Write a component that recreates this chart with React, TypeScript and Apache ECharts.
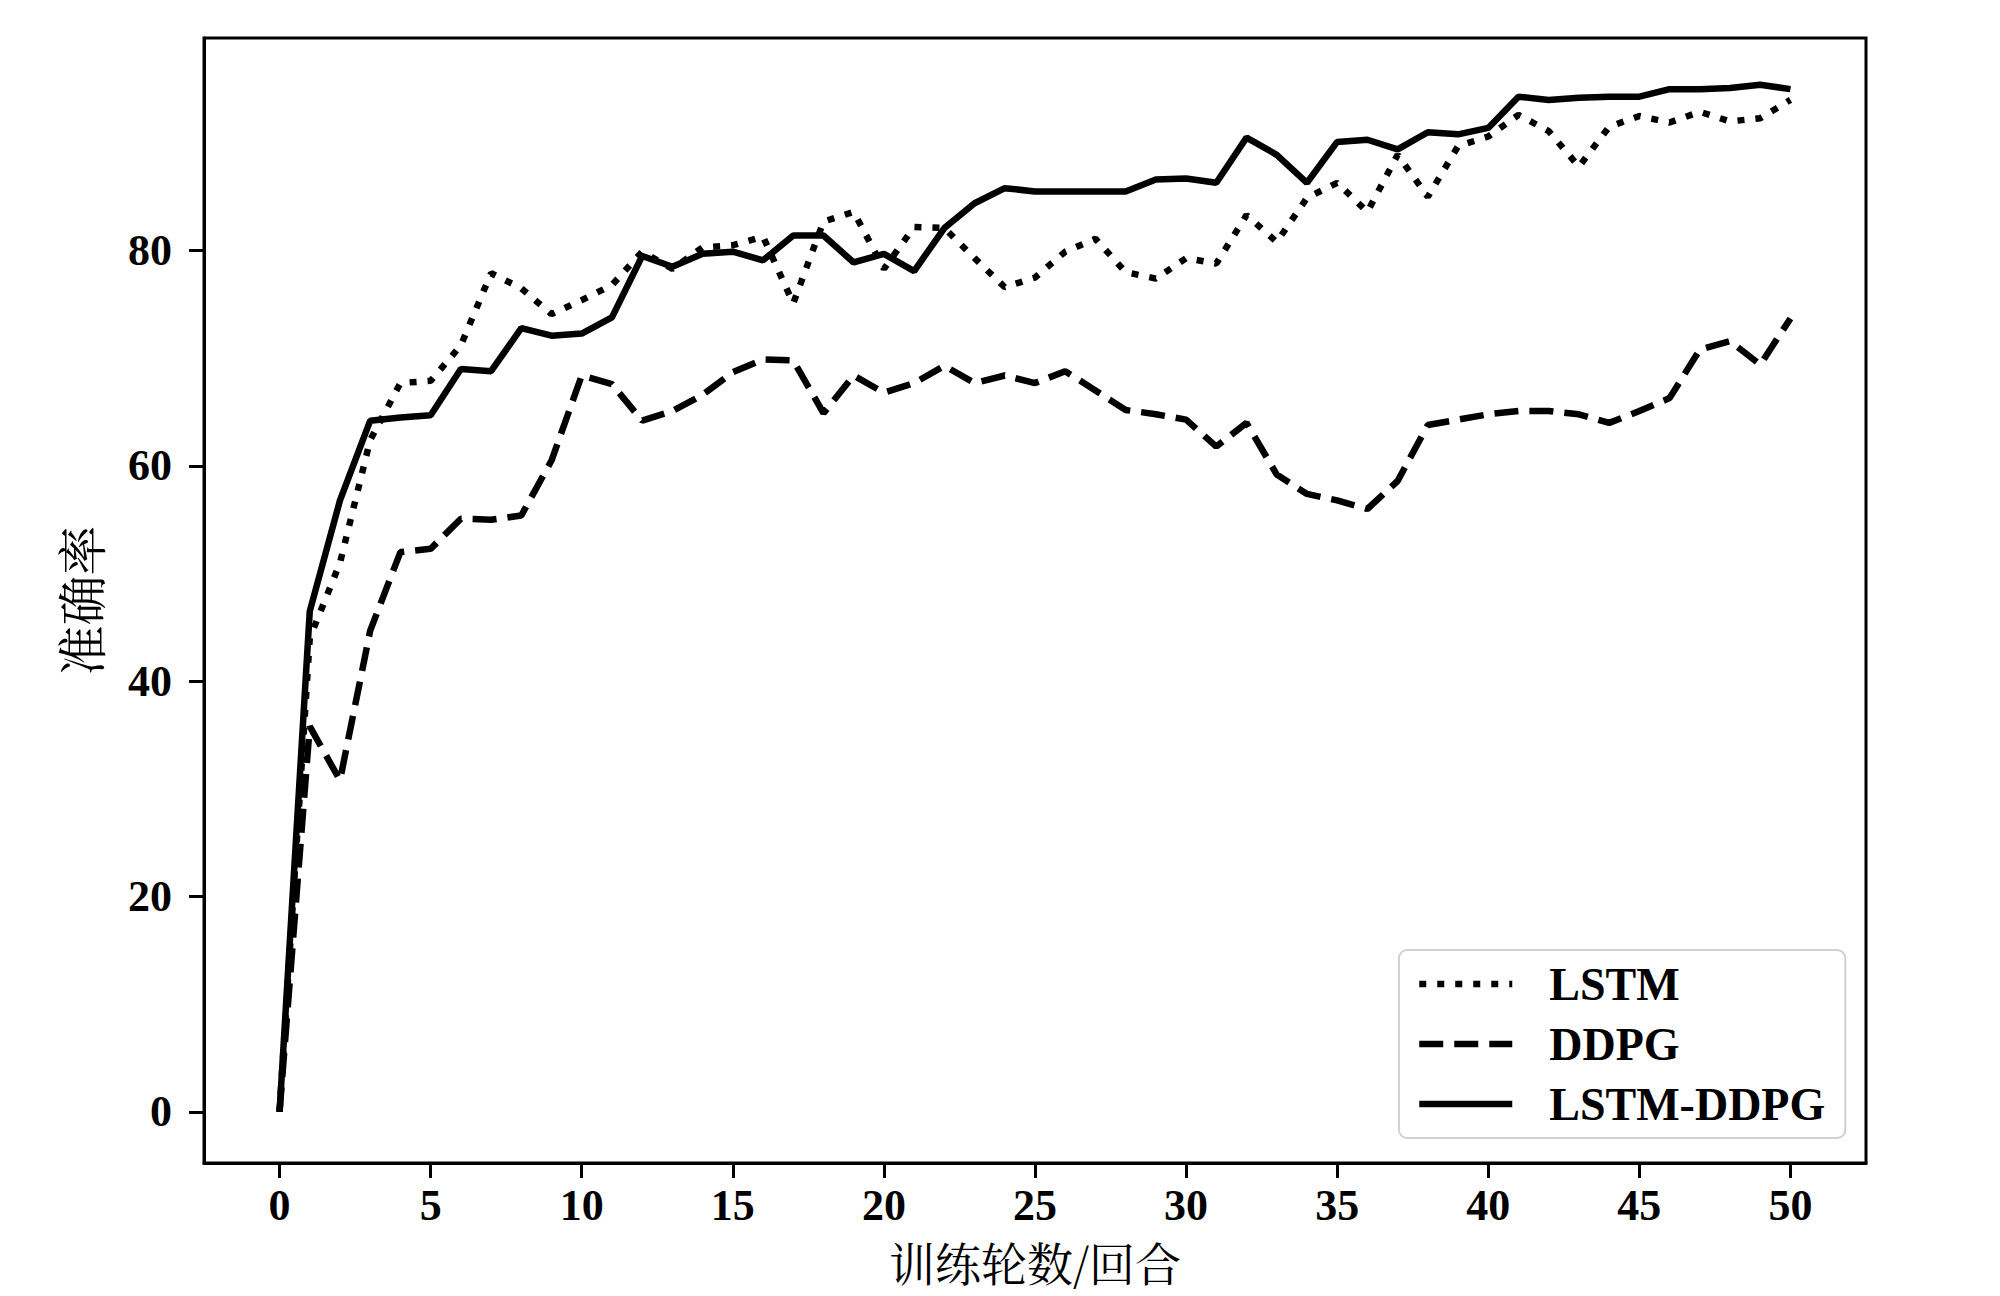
import React, { useEffect, useRef } from "react";
import * as echarts from "echarts";

const epochs: number[] = [];
for (let i = 0; i <= 50; i++) epochs.push(i);

const lstm = [0, 44, 51, 62.4, 67.7, 67.9, 71.2, 77.9, 76.5, 74.1, 75.4, 76.8, 79.9, 78.3, 80.3, 80.5, 81.3, 75.1, 82.7, 83.6, 78.3, 82.2, 82.1, 79.3, 76.6, 77.5, 79.9, 81.1, 78.0, 77.4, 79.3, 78.8, 83.3, 80.8, 84.9, 86.3, 83.6, 88.9, 85.0, 89.7, 90.6, 92.6, 91.1, 87.8, 91.5, 92.5, 91.9, 92.9, 92.0, 92.3, 94.0];
const ddpg = [0, 35.8, 30.8, 44.7, 52.0, 52.3, 55.1, 55.0, 55.4, 60.5, 68.4, 67.6, 64.2, 65.1, 66.6, 68.7, 69.9, 69.8, 64.9, 68.4, 66.8, 67.7, 69.3, 67.7, 68.4, 67.7, 68.8, 67.0, 65.2, 64.8, 64.3, 61.8, 64.0, 59.2, 57.4, 56.8, 56.0, 58.6, 63.8, 64.3, 64.8, 65.1, 65.1, 64.8, 64.0, 65.1, 66.3, 70.8, 71.6, 69.4, 73.7];
const lstmDdpg = [0, 46.5, 56.8, 64.2, 64.5, 64.7, 69.0, 68.8, 72.8, 72.1, 72.3, 73.8, 79.5, 78.5, 79.7, 79.9, 79.1, 81.4, 81.4, 78.9, 79.7, 78.1, 82.1, 84.4, 85.8, 85.5, 85.5, 85.5, 85.5, 86.6, 86.7, 86.3, 90.5, 88.9, 86.3, 90.1, 90.3, 89.4, 91.0, 90.8, 91.4, 94.3, 94.0, 94.2, 94.3, 94.3, 95.0, 95.0, 95.1, 95.4, 95.0];

const xTicks = [0, 5, 10, 15, 20, 25, 30, 35, 40, 45, 50];
const yTicks = [0, 20, 40, 60, 80];

const seriesNames = ["LSTM", "DDPG", "LSTM-DDPG"];
const xName = "训练轮数/回合";
const yName = "准确率";

const serif = "'Liberation Serif', 'Times New Roman', serif";
const cjk = "'Noto Serif CJK SC', 'Noto Sans CJK SC', sans-serif";

const dotted = [7, 11];
const dashed = [24, 11];

export default function App() {
  const ref = useRef<HTMLDivElement>(null);
  useEffect(() => {
    if (!ref.current) return;
    const chart = echarts.init(ref.current, null, { renderer: "svg" });
    const pairs = (arr: number[]) => epochs.map((e, i) => [e, arr[i]]);
    const tickLabel = {
      fontFamily: serif,
      fontWeight: "bold" as const,
      fontSize: 44,
      lineHeight: 44,
      color: "#000",
    };
    const lineStyles = [
      { color: "#000", width: 6.5, type: dotted, cap: "butt" },
      { color: "#000", width: 6.5, type: dashed, cap: "butt" },
      { color: "#000", width: 6.5, type: "solid" },
    ];
    chart.setOption({
      animation: false,
      backgroundColor: "#fff",
      grid: {
        left: 204,
        right: 134,
        top: 38,
        bottom: 133,
        show: true,
        borderColor: "#000",
        borderWidth: 3,
      },
      xAxis: {
        type: "value",
        min: -2.5,
        max: 52.5,
        name: xName,
        nameLocation: "middle",
        nameGap: 75,
        nameTextStyle: { fontFamily: cjk, fontSize: 46, lineHeight: 46, color: "#000" },
        splitLine: { show: false },
        axisLine: { show: true, onZero: false, lineStyle: { color: "#000", width: 3 } },
        axisTick: {
          show: true,
          inside: false,
          length: 15,
          lineStyle: { color: "#000", width: 3 },
          customValues: xTicks,
        },
        axisLabel: { ...tickLabel, margin: 20, customValues: xTicks },
      },
      yAxis: {
        type: "value",
        min: -4.75,
        max: 99.75,
        name: yName,
        nameLocation: "middle",
        nameGap: 100,
        nameTextStyle: { fontFamily: cjk, fontSize: 50, lineHeight: 50, color: "#000" },
        splitLine: { show: false },
        axisLine: { show: true, onZero: false, lineStyle: { color: "#000", width: 3 } },
        axisTick: {
          show: true,
          inside: false,
          length: 15,
          lineStyle: { color: "#000", width: 3 },
          customValues: yTicks,
        },
        axisLabel: { ...tickLabel, margin: 32, customValues: yTicks },
      },
      legend: {
        orient: "vertical",
        left: 1399,
        top: 950,
        align: "left",
        padding: [11, 20, 11, 17],
        itemGap: 14,
        itemWidth: 93,
        itemHeight: 16,
        borderColor: "#d0d0d0",
        borderWidth: 2,
        borderRadius: 8,
        backgroundColor: "#fff",
        itemStyle: { opacity: 0 },
        data: seriesNames.map((n, i) => ({
          name: n,
          itemStyle: { opacity: 0 },
          lineStyle: lineStyles[i],
        })),
        textStyle: {
          fontFamily: serif,
          fontWeight: "bold",
          fontSize: 46,
          color: "#000",
          lineHeight: 46,
          padding: [0, 0, 0, 32],
        },
      },
      series: seriesNames.map((n, i) => ({
        name: n,
        type: "line",
        data: pairs([lstm, ddpg, lstmDdpg][i]),
        symbol: "none",
        lineStyle: lineStyles[i],
        itemStyle: { color: "#000" },
        z: i === 2 ? 3 : 2,
      })),
    });
    return () => chart.dispose();
  }, []);
  return (
    <div
      ref={ref}
      style={{ position: "fixed", left: 0, top: 0, width: 2000, height: 1296, background: "#fff" }}
    />
  );
}
